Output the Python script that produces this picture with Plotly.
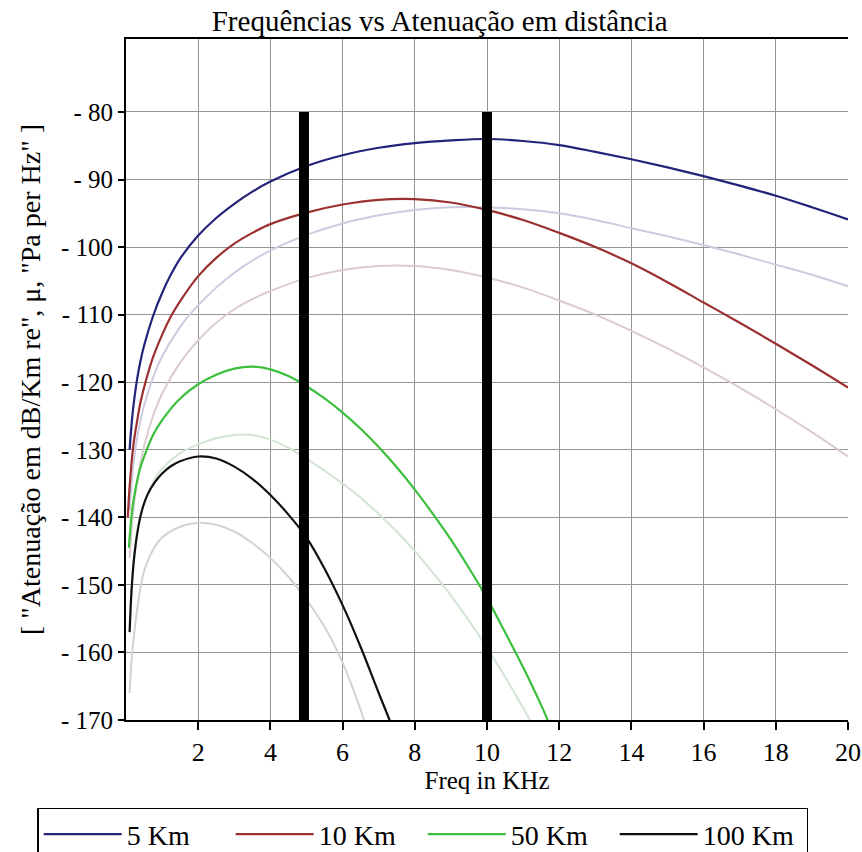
import plotly.graph_objects as go

# Attenuation curves (dB/km re 1 uPa per Hz) against frequency in kHz
freq_5km = [0.1, 0.15, 0.2, 0.3, 0.4, 0.5, 0.75, 1.0, 1.25, 1.5, 2.0, 2.5, 3.0, 3.5, 4.0, 5.0, 6.0,
            7.0, 8.0, 9.0, 10.0, 11.0, 12.0, 13.0, 14.0, 15.0, 16.0, 17.0, 18.0, 19.0, 20.0]
att_5km = [-130.0, -126.5, -123.8, -119.8, -116.9, -114.6, -110.2, -106.8, -104.0, -101.7, -98.3,
           -95.7, -93.6, -91.8, -90.3, -88.0, -86.4, -85.3, -84.6, -84.2, -84.0, -84.3, -84.9,
           -85.9, -87.0, -88.2, -89.5, -90.9, -92.4, -94.1, -95.9]

freq_10km = [0.05, 0.1, 0.2, 0.3, 0.4, 0.56, 0.75, 1.0, 1.25, 1.5, 2.0, 2.5, 3.0, 3.5, 4.0, 5.0, 6.0,
             7.0, 8.0, 9.0, 10.0, 11.0, 12.0, 13.0, 14.0, 15.0, 16.0, 17.0, 18.0, 19.0, 20.0]
att_10km = [-140.0, -135.5, -129.5, -126.0, -123.0, -119.6, -116.3, -113.0, -110.2, -108.0, -104.3,
            -101.6, -99.5, -97.9, -96.6, -94.9, -93.7, -93.0, -92.9, -93.4, -94.5, -96.0, -97.9,
            -100.0, -102.4, -105.2, -108.2, -111.2, -114.3, -117.5, -120.8]

freq_50km = [0.08, 0.14, 0.2, 0.3, 0.4, 0.56, 0.75, 1.0, 1.5, 2.0, 2.5, 3.0, 3.5, 4.0, 4.5, 5.0, 5.5,
             6.0, 6.5, 7.0, 7.5, 8.0, 8.5, 9.0, 9.5, 10.0, 10.5, 11.0, 11.5, 11.8]
att_50km = [-144.5, -140.5, -137.8, -134.8, -132.6, -130.2, -127.8, -125.6, -122.4, -120.3, -118.9,
            -118.0, -117.7, -118.1, -119.1, -120.6, -122.4, -124.5, -126.9, -129.6, -132.6, -135.9,
            -139.5, -143.3, -147.5, -152.0, -157.0, -162.2, -167.8, -171.5]

freq_100km = [0.1, 0.13, 0.16, 0.2, 0.25, 0.3, 0.37, 0.45, 0.6, 0.8, 1.0, 1.25, 1.5, 2.0, 2.5, 3.0,
              3.5, 4.0, 4.5, 5.0, 5.5, 6.0, 6.5, 7.0, 7.3, 7.5]
att_100km = [-157.0, -153.2, -150.3, -147.4, -144.8, -142.8, -140.6, -138.8, -136.6, -134.8, -133.5,
             -132.4, -131.7, -131.0, -131.3, -132.5, -134.3, -136.7, -139.6, -143.0, -147.6, -153.0,
             -159.2, -166.0, -170.0, -173.0]

# Lighter companion curves drawn behind the main ones
freq_faint_a = [0.1, 0.2, 0.3, 0.5, 0.75, 1.0, 1.5, 2.0, 2.5, 3.0, 3.5, 4.0, 5.0, 6.0, 7.0, 8.0, 9.0,
                10.0, 11.0, 12.0, 13.0, 14.0, 15.0, 16.0, 17.0, 18.0, 19.0, 20.0]
att_faint_a = [-139.0, -132.5, -128.5, -123.5, -119.3, -116.2, -111.8, -108.6, -106.0, -103.8, -102.0,
               -100.5, -98.2, -96.5, -95.3, -94.5, -94.1, -94.1, -94.4, -95.0, -96.0, -97.2, -98.4,
               -99.7, -101.1, -102.6, -104.1, -105.8]

freq_faint_b = [0.1, 0.2, 0.3, 0.5, 0.75, 1.0, 1.5, 2.0, 2.5, 3.0, 3.5, 4.0, 5.0, 6.0, 7.0, 8.0, 9.0,
                10.0, 11.0, 12.0, 13.0, 14.0, 15.0, 16.0, 17.0, 18.0, 19.0, 20.0]
att_faint_b = [-146.0, -139.0, -135.0, -129.5, -125.0, -121.7, -117.1, -113.8, -111.2, -109.2, -107.7,
               -106.5, -104.6, -103.4, -102.8, -102.8, -103.4, -104.5, -106.0, -107.9, -110.0, -112.4,
               -115.0, -117.8, -120.8, -124.0, -127.4, -131.0]

freq_faint_c = [0.1, 0.2, 0.3, 0.5, 0.75, 1.0, 1.5, 2.0, 2.5, 3.0, 3.5, 4.0, 4.5, 5.0, 5.5, 6.0, 6.5,
                7.0, 7.5, 8.0, 8.5, 9.0, 9.5, 10.0, 10.5, 11.0, 11.3]
att_faint_c = [-156.0, -147.0, -142.5, -138.0, -134.8, -132.8, -130.5, -129.2, -128.3, -127.8, -127.8,
               -128.5, -129.7, -131.3, -133.1, -135.0, -137.1, -139.5, -142.1, -145.0, -148.2, -151.6,
               -155.3, -159.3, -163.6, -168.2, -171.0]

freq_faint_d = [0.1, 0.15, 0.23, 0.3, 0.4, 0.5, 0.75, 1.0, 1.5, 2.0, 2.5, 3.0, 3.5, 4.0, 4.5, 5.0, 5.5,
                6.0, 6.5, 6.65]
att_faint_d = [-166.0, -161.5, -157.0, -154.0, -150.5, -148.0, -144.8, -143.0, -141.4, -140.8, -141.1,
               -142.1, -143.8, -146.0, -148.8, -152.2, -156.2, -161.5, -168.5, -171.0]

# Reference frequencies marked with heavy vertical bars
marker_freqs = [4.93, 10.0]
marker_span = [-80, -170]

y_ticks = [-80, -90, -100, -110, -120, -130, -140, -150, -160, -170]
y_ticktext = ["- " + str(abs(v)) for v in y_ticks]
x_ticks = [2, 4, 6, 8, 10, 12, 14, 16, 18, 20]

SERIF = "Liberation Serif, Times New Roman, serif"

fig = go.Figure()

faint = [
    (freq_faint_a, att_faint_a, "#cdcbe0"),
    (freq_faint_b, att_faint_b, "#dccbcb"),
    (freq_faint_c, att_faint_c, "#d3e4d3"),
    (freq_faint_d, att_faint_d, "#d2d2d2"),
]
for fx, fy, col in faint:
    fig.add_trace(go.Scatter(x=fx, y=fy, mode="lines", line=dict(color=col, width=2, shape="spline"),
                             showlegend=False, hoverinfo="skip"))

main = [
    ("5 Km", freq_5km, att_5km, "#23237a"),
    ("10 Km", freq_10km, att_10km, "#9b3030"),
    ("50 Km", freq_50km, att_50km, "#3cbf3c"),
    ("100 Km", freq_100km, att_100km, "#111111"),
]
for name, fx, fy, col in main:
    fig.add_trace(go.Scatter(x=fx, y=fy, mode="lines", name=name,
                             line=dict(color=col, width=2.2, shape="spline")))

for f in marker_freqs:
    fig.add_trace(go.Scatter(x=[f, f], y=marker_span, mode="lines",
                             line=dict(color="black", width=10), showlegend=False, hoverinfo="skip"))

fig.update_layout(
    width=862, height=852,
    margin=dict(l=126, r=14, t=39, b=132, autoexpand=False),
    paper_bgcolor="white", plot_bgcolor="white",
    font=dict(family=SERIF, color="black"),
    title=dict(text="Frequências vs Atenuação em distância", font=dict(size=29, family=SERIF),
               x=0.51, xref="container", xanchor="center", y=0.976, yref="container",
               yanchor="middle"),
    xaxis=dict(range=[0, 20], tickmode="array", tickvals=x_ticks, showgrid=True,
               gridcolor="#959595", gridwidth=1, showline=True, linecolor="black", linewidth=2,
               mirror=True, ticks="outside", ticklen=8, tickwidth=1.5, tickcolor="black",
               zeroline=False, automargin=False, tickfont=dict(size=26, family=SERIF),
               title=dict(text="Freq in KHz", font=dict(size=25, family=SERIF), standoff=4)),
    yaxis=dict(range=[-170, -69.2], tickmode="array", tickvals=y_ticks, ticktext=y_ticktext,
               showgrid=True, gridcolor="#959595", gridwidth=1, showline=True, linecolor="black",
               linewidth=2, ticks="outside", ticklen=6, tickwidth=1.5, tickcolor="black",
               zeroline=False, automargin=False, tickfont=dict(size=25, family=SERIF),
               title=dict(text='[ "Atenuação em dB/Km re", μ, "Pa per Hz" ]',
                          font=dict(size=28, family=SERIF), standoff=12)),
    legend=dict(orientation="h", x=-0.123, xanchor="left", y=-0.129, yanchor="top",
                bordercolor="black", borderwidth=1.5, bgcolor="white",
                font=dict(size=28, family=SERIF), itemwidth=78,
                entrywidth=99, entrywidthmode="pixels", tracegroupgap=0),
)

fig.write_html("out.html")
